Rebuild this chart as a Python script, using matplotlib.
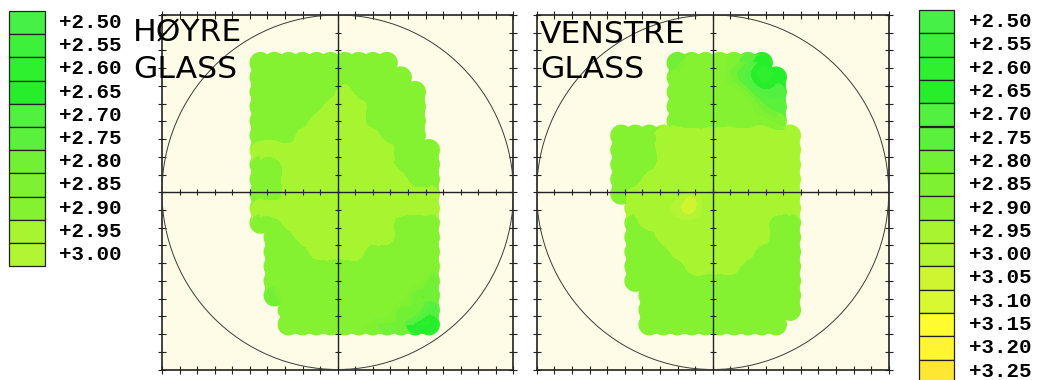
import numpy as np
import matplotlib
matplotlib.use("Agg")
import matplotlib.pyplot as plt
from matplotlib.patches import Circle, Rectangle
from matplotlib.collections import PatchCollection, LineCollection
from matplotlib.tri import Triangulation, UniformTriRefiner

# power steps (dioptre) and the colour of each step
step_values = [2.50, 2.55, 2.60, 2.65, 2.70, 2.75, 2.80, 2.85,
               2.90, 2.95, 3.00, 3.05, 3.10, 3.15, 3.20, 3.25]
step_colors = ['#46f046', '#3cf03c', '#2ef02e', '#26ee2a', '#52f040', '#5af03c',
               '#72f036', '#7ef232', '#84f230', '#a6f530', '#b2f532', '#cff530',
               '#d8f830', '#fffb30', '#fff530', '#ffe630']
hoyre_legend = step_values[:11]
venstre_legend = step_values[:16]

# measuring grid (frame is +-10)
grid_y = [7.3, 6.48, 5.66, 4.84, 4.02, 3.2, 2.38, 1.56, 0.74, -0.08, -0.9,
          -1.72, -2.54, -3.36, -4.18, -5.0, -5.82, -6.64, -7.46]
hoyre_x = [-4.4, -3.6, -2.8, -2.0, -1.2, -0.4, 0.4, 1.2, 2.0, 2.8, 3.6, 4.4, 5.2]
venstre_x = [-5.2, -4.4, -3.6, -2.8, -2.0, -1.2, -0.4, 0.4, 1.2, 2.0, 2.8, 3.6, 4.4]

# step index per measuring point (hex digit), '.' = not measured
hoyre_steps = [
    "8888888888...",
    "88888888888..",
    "888888988888.",
    "888889998888.",
    "888899998888.",
    "888999999888.",
    "9999999999888",
    "8899999999888",
    "8899999999988",
    "8899999999999",
    "9999999999999",
    "8899999999888",
    ".889999999888",
    ".888999988888",
    ".888888888888",
    ".888888888886",
    ".688888888866",
    "..88888888664",
    "..88888876632",
]
venstre_steps = [
    "....6888753..",
    "....88886423.",
    "....88888644.",
    "....88888865.",
    "....88888887.",
    "8889999999999",
    "8889999999999",
    "8889999999999",
    "8899999999999",
    "89999A9999999",
    ".999AB9999999",
    ".899999999988",
    ".889999999988",
    ".888999999888",
    ".888899998888",
    ".888888888888",
    "..88888888888",
    "..88888888888",
    "..8888888888.",
]

W, H = 1042, 380
CREAM = '#fefce6'
SPOT_R = 0.62
LINK_R = 0.53

fig = plt.figure(figsize=(W / 100, H / 100), dpi=100)
fig.patch.set_facecolor('white')

edges = [v - 0.025 for v in step_values] + [step_values[-1] + 0.025]


def measured_points(xs, rows):
    px, py, pv, idx = [], [], [], {}
    for j, row in enumerate(rows):
        for i, ch in enumerate(row):
            if ch != '.':
                idx[(j, i)] = len(px)
                px.append(xs[i])
                py.append(grid_y[j])
                pv.append(step_values[int(ch, 16)])
    return np.array(px), np.array(py), np.array(pv), idx


def draw_lens(px_left, px_top, px_w, px_h, xs, rows):
    ax = fig.add_axes([px_left / W, 1 - (px_top + px_h) / H, px_w / W, px_h / H])
    ax.set_facecolor(CREAM)
    ax.set_xlim(-10, 10)
    ax.set_ylim(-10, 10)

    x, y, v, idx = measured_points(xs, rows)
    cols = [step_colors[step_values.index(val)] for val in v]

    # measuring spots and the links between neighbouring spots -> scalloped rim
    spots = [Circle((a, b), SPOT_R) for a, b in zip(x, y)]
    ax.add_collection(PatchCollection(spots, facecolors=cols, edgecolors='none', zorder=1))
    segs, seg_cols = [], []
    for (j, i), k in idx.items():
        for nb in ((j, i + 1), (j + 1, i)):
            if nb in idx:
                m = idx[nb]
                segs.append([(x[k], y[k]), (x[m], y[m])])
                seg_cols.append(cols[k])
    lw_pt = 2 * LINK_R * (px_w / 20) * 72 / 100
    ax.add_collection(LineCollection(segs, colors=seg_cols, linewidths=lw_pt,
                                     capstyle='round', zorder=1))

    # smooth iso-power bands over the measured area
    tri = Triangulation(x, y)
    corners = np.column_stack([x, y])[tri.triangles]
    longest = np.max(np.linalg.norm(corners - np.roll(corners, 1, axis=1), axis=2), axis=1)
    tri.set_mask(longest > 1.25)
    tri_f, v_f = UniformTriRefiner(tri).refine_field(v, subdiv=3)
    v_f = np.ma.filled(np.ma.masked_invalid(v_f), float(np.mean(v)))
    ax.tricontourf(tri_f, v_f, levels=edges, colors=step_colors, zorder=2)

    ax.add_patch(Circle((0, 0), 10, fill=False, ec='#3a3a3a', lw=0.7, zorder=3))
    ax.axhline(0, color='#222222', lw=1.0, zorder=4)
    ax.axvline(0, color='#222222', lw=1.0, zorder=4)
    t = np.arange(-9, 10)
    ax.plot(t, np.zeros_like(t), ls='none', marker='|', ms=5, mew=0.8, color='#222222', zorder=4)
    ax.plot(np.zeros_like(t), t, ls='none', marker='_', ms=5, mew=0.8, color='#222222', zorder=4)

    ax.set_xticks(np.arange(-10, 11))
    ax.set_yticks(np.arange(-10, 11))
    ax.tick_params(direction='inout', length=6, width=0.8, color='#222222',
                   top=True, right=True, labelbottom=False, labelleft=False)
    for s in ax.spines.values():
        s.set_linewidth(1.2)
        s.set_color('#222222')
    return ax


draw_lens(162, 15, 351.4, 354.5, hoyre_x, hoyre_steps)
draw_lens(536.7, 15, 352, 354.5, venstre_x, venstre_steps)

# legends in pixel space
lg = fig.add_axes([0, 0, 1, 1])
lg.set_xlim(0, W)
lg.set_ylim(H, 0)
lg.axis('off')


def draw_legend(values, x0, y0, bw, bh, tx):
    for i, v in enumerate(values):
        lg.add_patch(Rectangle((x0, y0 + i * bh), bw, bh,
                               facecolor=step_colors[step_values.index(v)],
                               edgecolor='#222222', lw=0.9))
        lg.text(tx, y0 + (i + 0.5) * bh, f"{v:+.2f}", ha='left', va='center',
                family='Liberation Mono', fontweight='bold', fontsize=15, color='black')


draw_legend(hoyre_legend, 9, 11, 36, 23.2, 59)
draw_legend(venstre_legend, 919, 10, 35, 23.3, 969)

title_kw = dict(family='DejaVu Sans', fontsize=22.6, color='black', va='baseline', ha='left')
fig.text(133 / W, 1 - 41 / H, "HØYRE", **title_kw)
fig.text(133 / W, 1 - 78 / H, "GLASS", **title_kw)
fig.text(540 / W, 1 - 43 / H, "VENSTRE", **title_kw)
fig.text(540 / W, 1 - 78 / H, "GLASS", **title_kw)

fig.savefig('out.png', dpi=100, facecolor='white')
